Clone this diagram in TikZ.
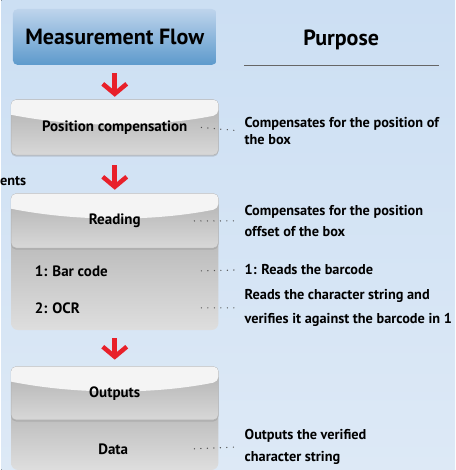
\documentclass[tikz,border=0pt]{standalone}
\usepackage{fontspec}
\setmainfont{PT Sans}
\usetikzlibrary{%
  arrows.meta,% Straight Barb
  positioning,%
  backgrounds,% box shading behind the labels
  shadows%
}

\definecolor{bgtop}{RGB}{204,223,243}
\definecolor{bgbot}{RGB}{221,233,246}
\definecolor{flowtop}{RGB}{190,212,236}
\definecolor{flowbot}{RGB}{93,154,204}
\definecolor{capwhite}{RGB}{244,244,244}
\definecolor{headgray}{RGB}{176,176,176}
\definecolor{headlight}{RGB}{216,216,216}
\definecolor{bodygray}{RGB}{186,186,186}
\definecolor{bodylight}{RGB}{222,222,222}
\definecolor{flowred}{RGB}{232,32,42}
\definecolor{dotgray}{RGB}{80,80,80}

\begin{document}
\begin{tikzpicture}
    [   x=1pt, y=-1pt
    ,   font=\fontsize{14.3}{21}\selectfont\bfseries
    ,   text=black
    ,   heading/.style=
            {   % The shape:
                rectangle
            ,   rounded corners=5pt
            ,   minimum width=204pt
            ,   minimum height=56pt
            ,   % The rest
                top color=flowtop
            ,   bottom color=flowbot
            ,   font=\fontsize{22}{24}\selectfont\bfseries
            }
    ,   stage/.style=
            {   rectangle
            ,   minimum width=207pt
            ,   inner sep=0pt
            ,   font=\fontsize{15}{16}\selectfont\bfseries
            }
    ,   item/.style={anchor=west, font=\fontsize{15}{16}\selectfont\bfseries}
    ,   purpose/.style={anchor=west, align=left}
    ,   stagehead/.style=
            {   rounded corners=5pt
            ,   draw=black!30
            ,   line width=0.6pt
            ,   top color=headgray
            ,   bottom color=headlight
            ,   drop shadow={shadow xshift=0pt, shadow yshift=-1.5pt, opacity=.3}
            }
    ,   capfill/.style={fill=capwhite}
    ,   stagebody/.style={rounded corners=7pt, top color=bodygray, bottom color=bodylight}
    ,   flowarrow/.style=
            {   flowred
            ,   line width=4.5pt
            ,   -{Straight Barb[length=10pt, width=24pt, line width=4.5pt]}
            }
    ,   leader/.style={dotgray, line width=1.4pt, line cap=round, dash pattern=on 0pt off 6.5pt}
    ]

    % left column
    \node[heading] (flow) at (113.5,37) {Measurement Flow};
    \node[stage, minimum height=55pt] (poscomp) at (113.5,127.5) {Position compensation};
    \node[stage, minimum height=54pt] (reading) at (113.5,221) {Reading};
    \node[stage, minimum height=82pt] (readbody) at (113.5,289) {};
    \node[item] (barcode) at (30,271) {1: Bar code};
    \node[item] (ocr) at (30,308) {2: OCR};
    \node[stage, minimum height=53pt] (outputs) at (113.5,393.5) {Outputs};
    \node[stage, minimum height=50pt] (outbody) at (113.5,445) {};
    \node[item, anchor=center] (data) at (112,449) {Data};
    \node[anchor=east, inner xsep=0pt] (cut) at (25,181) {ents};

    % right column
    \node[font=\fontsize{22}{24}\selectfont\bfseries] (purp) at (340,40) {Purpose};
    \coordinate (ruleL) at (243,66);
    \coordinate (ruleR) at (438,66);
    \draw[black!60, line width=1pt] (ruleL) -- (ruleR);
    \node[purpose] (posdesc) at (240,131) {Compensates for the position of\\[-4pt]the box};
    \node[purpose] (readdesc) at (240,221) {Compensates for the position\\offset of the box};
    \node[purpose] (bardesc) at (240,270) {1: Reads the barcode};
    \node[purpose] (ocrdesc) at (240,308) {Reads the character string and\\[3pt]verifies it against the barcode in 1};
    \node[purpose] (datadesc) at (240,447) {Outputs the verified\\[1pt]character string};

    % box shading
    \begin{scope}[on background layer]
        \fill[top color=bgtop, bottom color=bgbot] (0,0) rectangle (454,470);
        \path[stagebody] ([yshift=10pt]readbody.north west) rectangle (readbody.south east);
        \path[stagebody] ([yshift=10pt]outbody.north west) rectangle (outbody.south east);
        \foreach \s in {poscomp,reading,outputs}{
            \path[stagehead] (\s.north west) rectangle (\s.south east);
            \path[capfill] ([yshift=-15pt]\s.north west) [rounded corners=5pt] |- (\s.north east)
                -- ([yshift=-15pt]\s.north east) [sharp corners]
                .. controls +(-65,13) and +(65,13) .. ([yshift=-15pt]\s.north west);
        }
    \end{scope}

    % flow arrows
    \draw[flowarrow, shorten <=8pt, shorten >=3pt] (flow) -- (poscomp);
    \draw[flowarrow, shorten <=10pt, shorten >=4pt] (poscomp) -- (reading);
    \draw[flowarrow, shorten <=8pt, shorten >=7pt] (readbody) -- (outputs);

    % dotted leaders
    \draw[leader, shorten >=3pt] ([xshift=-17pt]poscomp.east) -- (posdesc.west);
    \draw[leader, shorten >=3pt] ([xshift=-24pt]reading.east) -- (readdesc.west);
    \draw[leader, shorten >=3pt] ([xshift=-17pt]barcode.west -| readbody.east) -- (bardesc.west);
    \draw[leader, shorten >=3pt] ([xshift=-17pt]ocr.west -| readbody.east) -- (ocrdesc.west);
    \draw[leader, shorten >=3pt] ([xshift=-24pt]data.west -| outbody.east) -- (datadesc.west);
\end{tikzpicture}
\end{document}
